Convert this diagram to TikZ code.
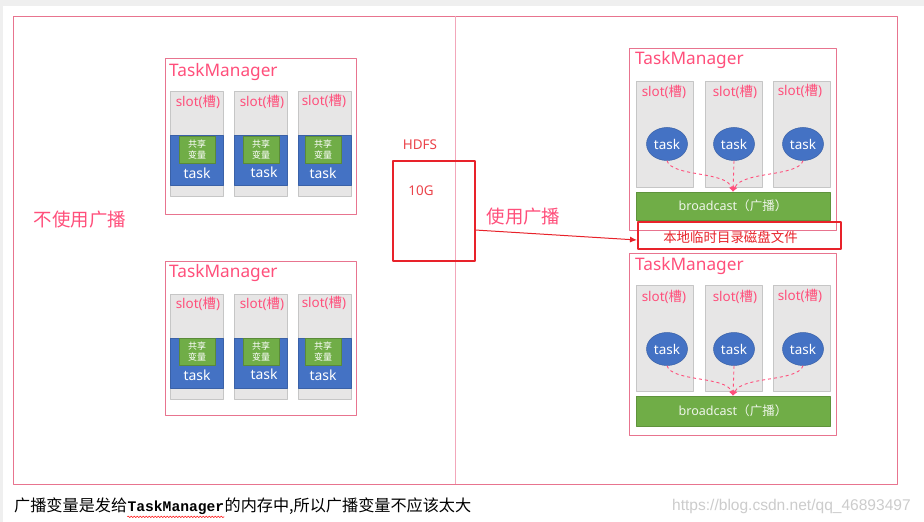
\documentclass[tikz,border=0pt]{standalone}
\usepackage{fontspec}
\setmainfont{Noto Sans}
\setmonofont{Liberation Mono}
\newfontfamily\cjk{Noto Sans CJK SC}
\newfontfamily\urlfont{Liberation Sans}
\usetikzlibrary{positioning,arrows.meta,decorations.pathmorphing,shapes.geometric}
\definecolor{framepink}{HTML}{E8748F}
\definecolor{linepink}{HTML}{F2A7BA}
\definecolor{textpink}{HTML}{FF4F7B}
\definecolor{slotfill}{HTML}{E7E6E6}
\definecolor{slotgray}{HTML}{C6C6C6}
\definecolor{taskblue}{HTML}{4472C4}
\definecolor{sharegreen}{HTML}{70AD47}
\definecolor{hdfsred}{HTML}{E8222A}
\definecolor{pagegray}{HTML}{EFEFEF}
\tikzset{
  tmbox/.style={draw=framepink,line width=0.8bp,inner sep=0,outer sep=0},
  tmtitle/.style={anchor=west,inner sep=0,text=textpink,font=\fontsize{17.3}{19}\selectfont},
  slotbox/.style={draw=slotgray,fill=slotfill,line width=0.8bp,inner sep=0,outer sep=0},
  slottext/.style={inner sep=0,text=textpink,font=\fontsize{13.5}{15}\selectfont},
  bandbox/.style={draw=taskblue!85!black,fill=taskblue,line width=0.5bp,inner sep=0,minimum width=53bp,minimum height=50bp},
  sharebox/.style={fill=sharegreen,draw=sharegreen!80!black,line width=0.4bp,inner sep=0,minimum width=36bp,minimum height=27bp,
    align=center,text=white,font=\cjk\fontsize{9}{11}\selectfont},
  tasktext/.style={inner sep=0,text=white,font=\fontsize{14}{16}\selectfont},
  taskoval/.style={ellipse,fill=taskblue,draw=taskblue!85!black,line width=0.5bp,inner sep=0,minimum width=41bp,minimum height=33bp,
    text=white,font=\fontsize{13.5}{16}\selectfont},
  bcbar/.style={fill=sharegreen,draw=sharegreen!85!black,line width=0.5bp,inner sep=0,minimum width=194bp,
    text=white!88!sharegreen,font=\fontsize{12.6}{14}\selectfont},
  flowline/.style={draw=textpink,dashed,line width=0.9bp,-{Latex[length=5bp,width=5bp]}},
  redbox/.style={draw=hdfsred,line width=1.6bp,inner sep=0,outer sep=0},
  bigpink/.style={inner sep=0,text=textpink,font=\cjk\fontsize{18.5}{20}\selectfont},
}
\begin{document}
\begin{tikzpicture}[x=1bp,y=-1bp,>=latex,line join=bevel]
\useasboundingbox (0,0) rectangle (924,522);
\fill[pagegray] (0,0) rectangle (924,522);
\fill[white] (3,6) rectangle (924,522);
%%
\draw[framepink,line width=0.8bp] (13,16) rectangle (897,484);
\draw[linepink,line width=0.8bp] (455,16) -- (455,484);
%% left side, no broadcast
\node (tm_a) at (260.5,136) [tmbox,minimum width=191bp,minimum height=156bp] {};
\node (tm_a_title) at (169,72) [tmtitle] {TaskManager};
\node (slot_a1) at (196.5,143.5) [slotbox,minimum width=53bp,minimum height=105bp] {};
\node (slot_a2) at (260.5,143.5) [slotbox,minimum width=53bp,minimum height=105bp] {};
\node (slot_a3) at (324.5,143.5) [slotbox,minimum width=53bp,minimum height=105bp] {};
\node (slot_a1_txt) at (198,102) [slottext] {slot({\cjk 槽})};
\node (slot_a2_txt) at (262,102) [slottext] {slot({\cjk 槽})};
\node (slot_a3_txt) at (324,101) [slottext] {slot({\cjk 槽})};
\node (band_a1) at (196.5,160) [bandbox] {};
\node (band_a2) at (260.5,160) [bandbox] {};
\node (band_a3) at (324.5,160) [bandbox] {};
\node (share_a1) at (197,149.5) [sharebox] {共享\\变量};
\node (share_a2) at (261,149.5) [sharebox] {共享\\变量};
\node (share_a3) at (323,149.5) [sharebox] {共享\\变量};
\node (task_a1) at (197,173) [tasktext] {task};
\node (task_a2) at (264,172) [tasktext] {task};
\node (task_a3) at (323,173) [tasktext] {task};
%
\node (tm_b) at (260.5,338) [tmbox,minimum width=191bp,minimum height=154bp] {};
\node (tm_b_title) at (169,273) [tmtitle] {TaskManager};
\node (slot_b1) at (196.5,346.5) [slotbox,minimum width=53bp,minimum height=105bp] {};
\node (slot_b2) at (260.5,346.5) [slotbox,minimum width=53bp,minimum height=105bp] {};
\node (slot_b3) at (324.5,346.5) [slotbox,minimum width=53bp,minimum height=105bp] {};
\node (slot_b1_txt) at (198,304) [slottext] {slot({\cjk 槽})};
\node (slot_b2_txt) at (262,304) [slottext] {slot({\cjk 槽})};
\node (slot_b3_txt) at (324,303) [slottext] {slot({\cjk 槽})};
\node (band_b1) at (196.5,363) [bandbox] {};
\node (band_b2) at (260.5,363) [bandbox] {};
\node (band_b3) at (324.5,363) [bandbox] {};
\node (share_b1) at (197,352) [sharebox] {共享\\变量};
\node (share_b2) at (261,352) [sharebox] {共享\\变量};
\node (share_b3) at (323,352) [sharebox] {共享\\变量};
\node (task_b1) at (197,375) [tasktext] {task};
\node (task_b2) at (264,374) [tasktext] {task};
\node (task_b3) at (323,375) [tasktext] {task};
%
\node (no_bc) at (80,220) [bigpink] {不使用广播};
%% HDFS in the middle
\node (hdfs_txt) at (420,145) [inner sep=0,text=hdfsred!85!white,font=\fontsize{13.5}{15}\selectfont] {HDFS};
\node (hdfs) at (434,211) [redbox,minimum width=82bp,minimum height=100bp] {};
\node (hdfs_size) at (421,191) [inner sep=0,text=hdfsred!85!white,font=\fontsize{13.5}{15}\selectfont] {10G};
\node (use_bc) at (523.5,217) [bigpink] {使用广播};
%% right side, broadcast
\node (tm_c) at (732.5,139) [tmbox,minimum width=207bp,minimum height=182bp] {};
\node (tm_c_title) at (635,60) [tmtitle] {TaskManager};
\node (slot_c1) at (664.5,134) [slotbox,minimum width=57bp,minimum height=106bp] {};
\node (slot_c2) at (733.5,134) [slotbox,minimum width=57bp,minimum height=106bp] {};
\node (slot_c3) at (801.5,134) [slotbox,minimum width=57bp,minimum height=106bp] {};
\node (slot_c1_txt) at (664,92) [slottext] {slot({\cjk 槽})};
\node (slot_c2_txt) at (735,92) [slottext] {slot({\cjk 槽})};
\node (slot_c3_txt) at (800,91) [slottext] {slot({\cjk 槽})};
\node (task_c1) at (667,144) [taskoval] {task};
\node (task_c2) at (734,144) [taskoval] {task};
\node (task_c3) at (803,144) [taskoval] {task};
\node (bc_c) at (733,206) [bcbar,minimum height=28bp] {broadcast{\cjk （广播）}};
\draw [flowline] (task_c1.south) ..controls (672,177) and (726,171) .. (bc_c.north);
\draw [flowline] (task_c2.south) -- (bc_c.north);
\draw [flowline] (task_c3.south) ..controls (798,177) and (742,171) .. (bc_c.north);
\node (local_dir) at (739.5,235.5) [redbox,minimum width=203bp,minimum height=27bp] {};
\node (local_txt) at (730.5,237) [inner sep=0,text=hdfsred,font=\cjk\fontsize{13.5}{15}\selectfont] {本地临时目录磁盘文件};
%
\node (tm_d) at (732.5,344) [tmbox,minimum width=207bp,minimum height=182bp] {};
\node (tm_d_title) at (635,266) [tmtitle] {TaskManager};
\node (slot_d1) at (664.5,338.5) [slotbox,minimum width=57bp,minimum height=106bp] {};
\node (slot_d2) at (733.5,338.5) [slotbox,minimum width=57bp,minimum height=106bp] {};
\node (slot_d3) at (801.5,338.5) [slotbox,minimum width=57bp,minimum height=106bp] {};
\node (slot_d1_txt) at (664,297) [slottext] {slot({\cjk 槽})};
\node (slot_d2_txt) at (735,297) [slottext] {slot({\cjk 槽})};
\node (slot_d3_txt) at (800,296) [slottext] {slot({\cjk 槽})};
\node (task_d1) at (667,349) [taskoval] {task};
\node (task_d2) at (734,349) [taskoval] {task};
\node (task_d3) at (803,349) [taskoval] {task};
\node (bc_d) at (733,411) [bcbar,minimum height=30bp] {broadcast{\cjk （广播）}};
\draw [flowline] (task_d1.south) ..controls (672,382) and (726,376) .. (bc_d.north);
\draw [flowline] (task_d2.south) -- (bc_d.north);
\draw [flowline] (task_d3.south) ..controls (798,382) and (742,376) .. (bc_d.north);
%% hdfs to local dir
\coordinate (hdfs_out) at (475,230);
\coordinate (local_in) at (637,240);
\draw [hdfsred,line width=1bp,-{Latex[length=7bp,width=6bp]}] (hdfs_out) -- (local_in);
%% note below the frame
\node (note_a) at (14,506) [anchor=base west,inner sep=0,font=\cjk\fontsize{16.2}{18}\selectfont,yshift=-5.5bp] {广播变量是发给};
\node (note_b) [right=0pt of note_a.base east,anchor=base west,inner sep=0,font=\ttfamily\bfseries\fontsize{14.7}{17}\selectfont] {TaskManager};
\node (note_c) [right=0pt of note_b.base east,anchor=base west,inner sep=0,font=\cjk\fontsize{16.2}{18}\selectfont] {的内存中,所以广播变量不应该太大};
\draw [red,line width=0.5bp,decorate,decoration={snake,amplitude=0.8bp,segment length=3bp}] ([yshift=-2bp]note_b.south west) -- ([yshift=-2bp]note_b.south east);
\node (mark) at (672,506) [anchor=west,inner sep=0,text=black!20,font=\urlfont\fontsize{15.6}{17}\selectfont] {https://blog.csdn.net/qq\_46893497};
%
\end{tikzpicture}
\end{document}
